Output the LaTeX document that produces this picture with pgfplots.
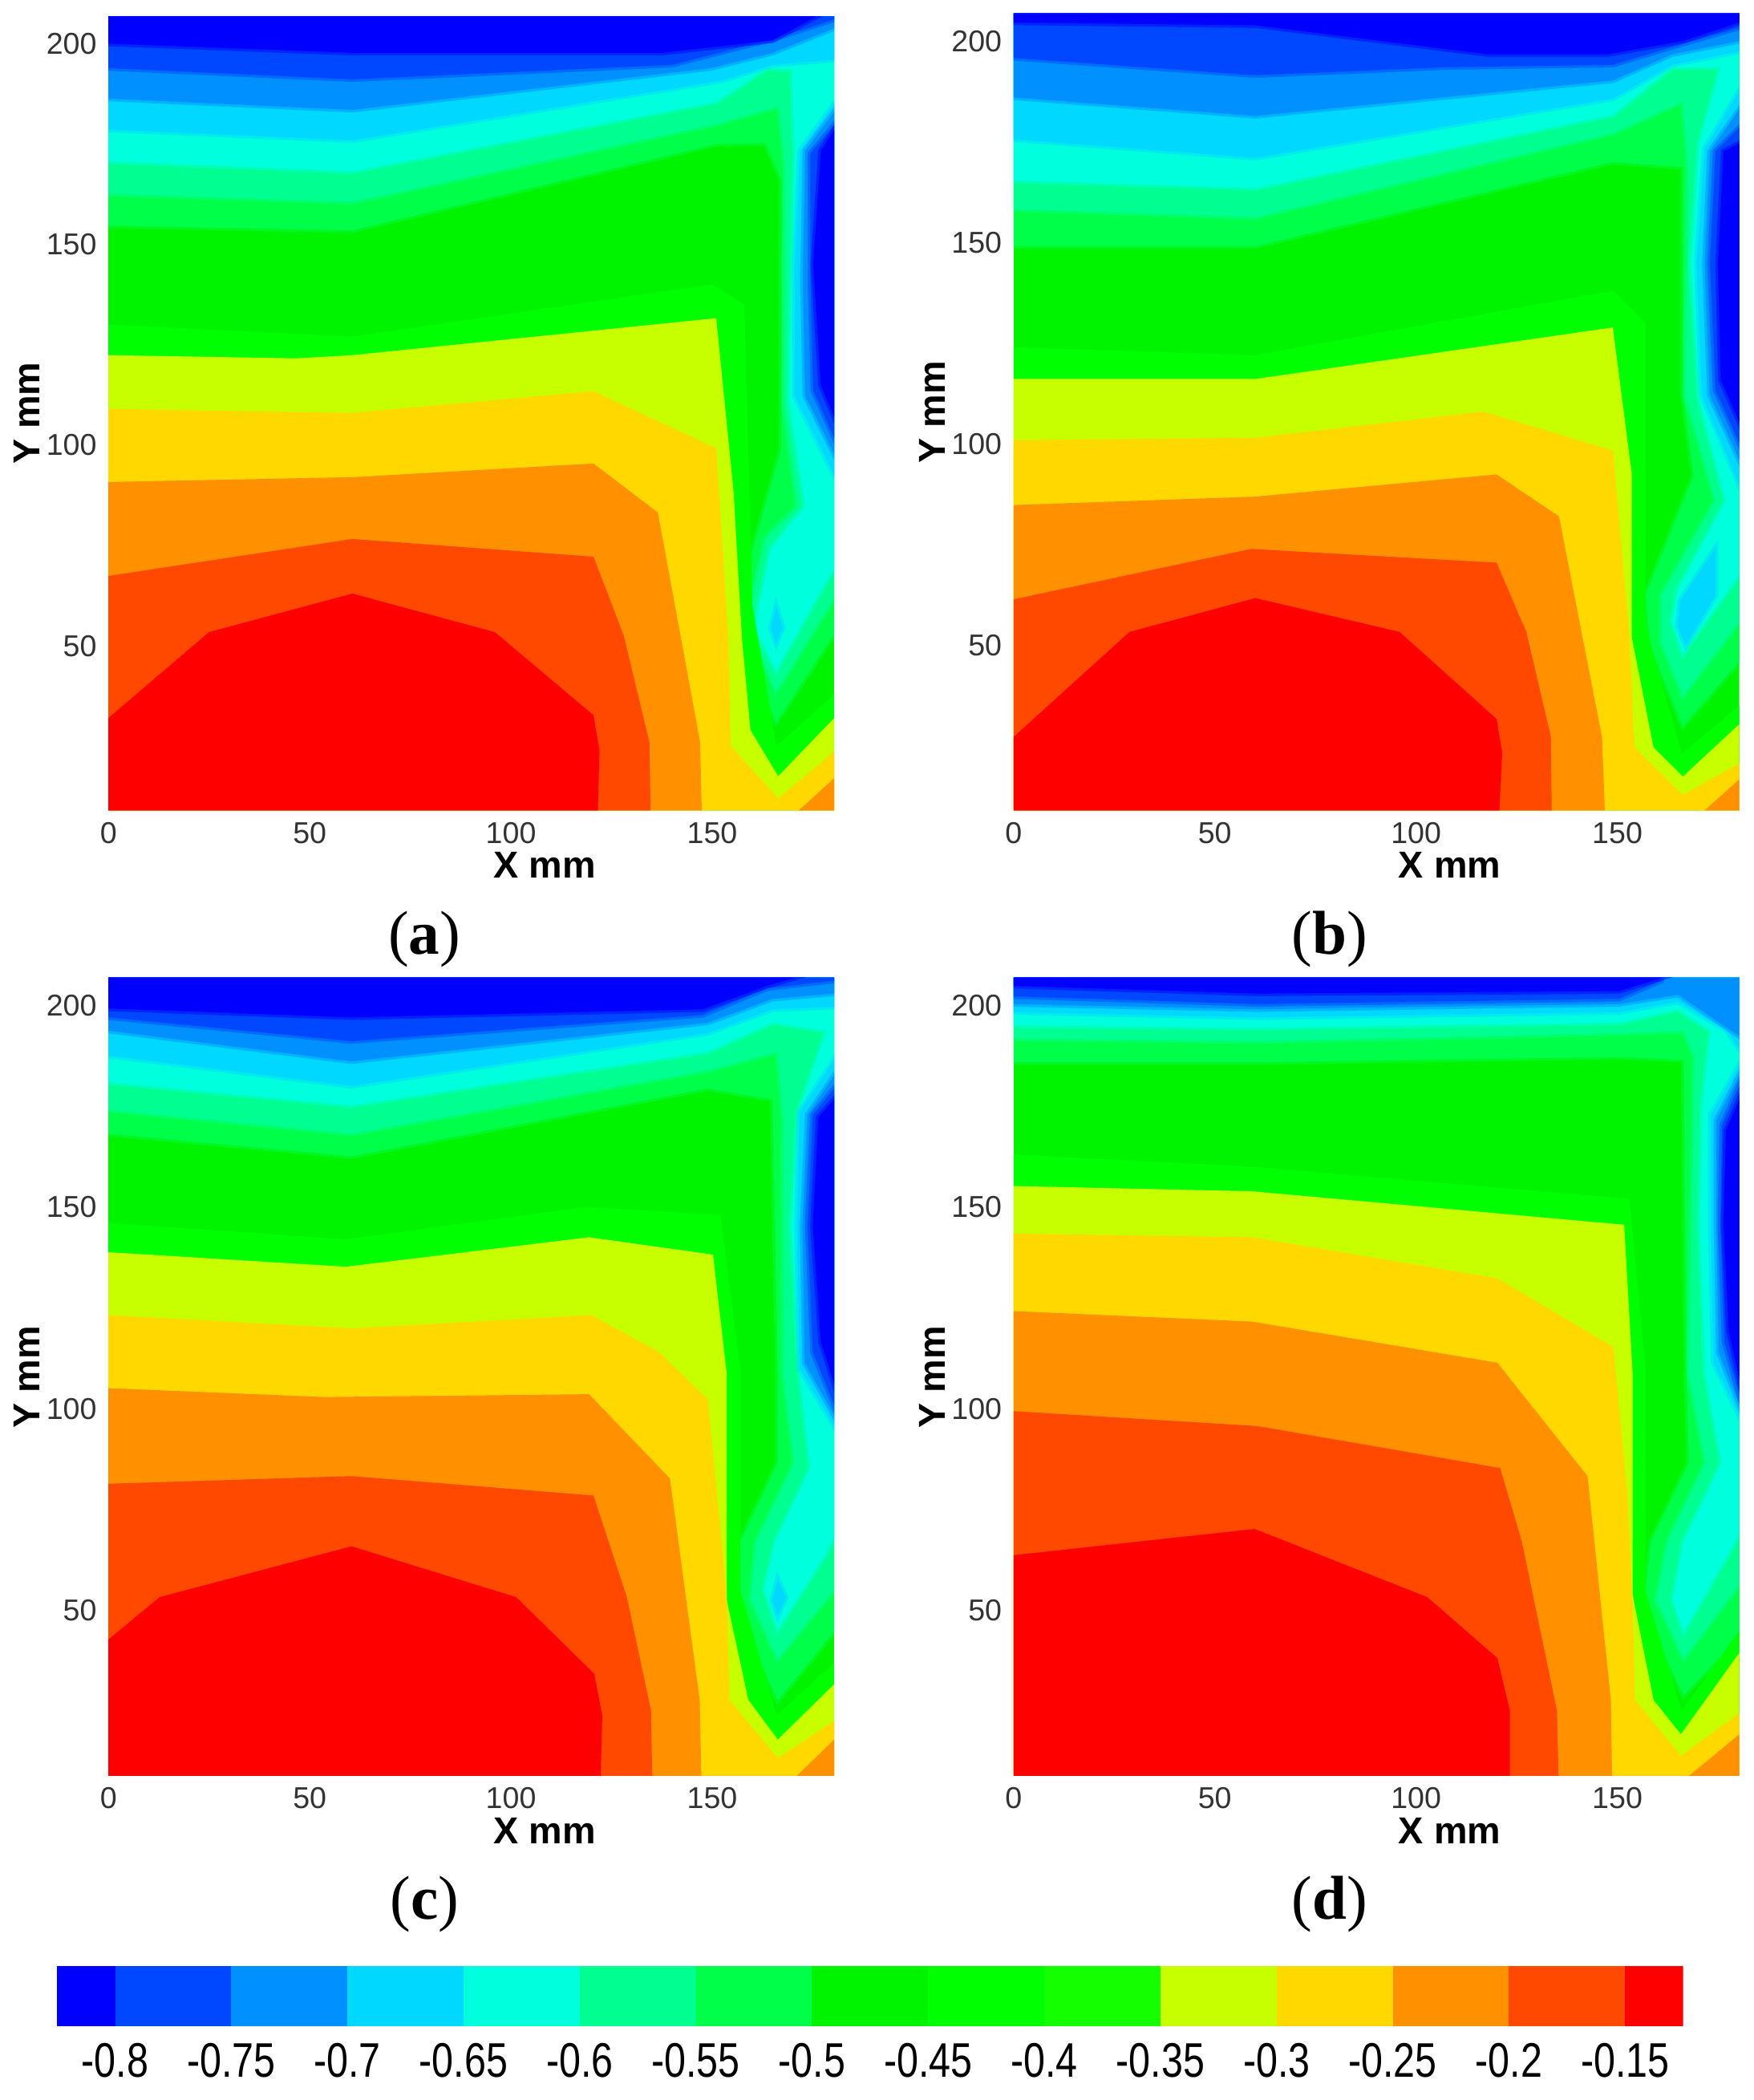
\documentclass[border=0pt]{standalone}
\usepackage{fontspec}
\setmainfont{Liberation Sans}
\newfontfamily\capfont{Liberation Serif}
\usepackage{pgfplots}
\pgfplotsset{compat=1.18}

% contour colours, lowest level first
\definecolor{c1}{HTML}{0000FF}
\definecolor{c2}{HTML}{0048FF}
\definecolor{c3}{HTML}{0090FF}
\definecolor{c4}{HTML}{00D8FF}
\definecolor{c5}{HTML}{00FFDC}
\definecolor{c6}{HTML}{00FF90}
\definecolor{c7}{HTML}{00FF48}
\definecolor{c8}{HTML}{00F400}
\definecolor{c9}{HTML}{00FF00}
\definecolor{c10}{HTML}{14FF00}
\definecolor{c11}{HTML}{C8FF00}
\definecolor{c12}{HTML}{FFD800}
\definecolor{c13}{HTML}{FF9000}
\definecolor{c14}{HTML}{FF4800}
\definecolor{c15}{HTML}{FF0000}

\newcommand{\lb}[1]{\scalebox{1}[1.25]{#1}}
\newcommand{\panelcap}[1]{{\capfont\fontsize{18.5}{20}\selectfont(\textbf{#1})}}

\pgfplotsset{
  panel/.style={
    scale only axis, width=216.8pt,
    anchor=south west,
    xmin=0, xmax=180.3, ymin=9, ymax=206.8,
    axis line style={draw=none},
    tick style={draw=none},
    xtick={0,50,100,150}, ytick={50,100,150,200},
    /pgf/number format/assume math mode=true,
    tick label style={font=\fontsize{9}{10}\selectfont, text=black!80},
    xlabel={\textbf{X mm}}, ylabel={\textbf{Y mm}},
    label style={font=\fontsize{11.2}{12}\selectfont},
    xlabel style={at={(axis description cs:0.601,-0.069)},anchor=center},
    ylabel style={at={(axis description cs:-0.1125,0.5)},anchor=center},
  },
  band/.style={draw=none, fill=#1, forget plot},
  % the cold levels are soft edged in the reference
  soft/.style={draw=#1, draw opacity=0.5, line width=1.6pt, fill=#1, forget plot},
}

\begin{document}
\begin{tikzpicture}[x=0.4pt,y=0.4pt]
\path[use as bounding box] (0,0) rectangle (1310,1568.2);

% (a)
\begin{axis}[panel, at={(32.4pt,385.2pt)}, height=237.2pt]
\addplot[band=c8] coordinates {(0,9)(180.3,9)(180.3,206.8)(0,206.8)} --cycle;
\addplot[soft=c7] coordinates {(0,154.7)(60.6,153.5)(151,175)(163.3,175.2)(167.2,166)(167.2,109.6)(167.2,99.1)(158.7,69)(156.7,53.2)(165.9,31)(180.3,53)(180.3,206.8)(0,206.8)} --cycle;
\addplot[soft=c6] coordinates {(0,162.6)(60.6,160.6)(151,180)(166.6,184.4)(168.2,168.7)(167.9,109.6)(171.2,84.7)(163.3,76.8)(158.7,55.8)(165.9,38.8)(180.3,62)(180.3,206.8)(0,206.8)} --cycle;
\addplot[soft=c5] coordinates {(0,170.7)(60.6,168.2)(151,185.5)(163.6,193.9)(169.8,193.6)(170.5,173.3)(169.2,111)(173.1,84.7)(164.6,74.2)(160.6,54.5)(165.9,44)(178.4,66.3)(180.3,69)(180.3,206.8)(0,206.8)} --cycle;
\addplot[soft=c4] coordinates {(0,178.6)(60.6,175.9)(152.5,190.8)(165,194.7)(180.3,196)(180.3,206.8)(0,206.8)} --cycle;
\addplot[soft=c3] coordinates {(0,186.3)(60.6,183.5)(149.7,193.9)(165,197.7)(180.3,203.8)(180.3,206.8)(0,206.8)} --cycle;
\addplot[soft=c2] coordinates {(0,193.9)(60.6,191.1)(140,194.7)(166.4,201.5)(180.3,206)(180.3,206.8)(0,206.8)} --cycle;
\addplot[soft=c1] coordinates {(0,200)(60.6,197.7)(137.5,197.7)(165,200.8)(176,206.8)(0,206.8)} --cycle;
\addplot[soft=c4] coordinates {(180.3,185)(171.8,173.3)(170.5,145)(170.5,112.3)(180.3,92.6)} --cycle;
\addplot[soft=c3] coordinates {(180.3,183)(173.1,173.3)(172.5,141.1)(173.1,112.3)(180.3,97.8)} --cycle;
\addplot[soft=c2] coordinates {(180.3,179.8)(174.4,172.6)(174.4,139.8)(175.1,113.6)(180.3,101.8)} --cycle;
\addplot[soft=c1] coordinates {(180.3,178.5)(177,173.3)(175.1,145)(177,114.9)(180.3,107)} --cycle;
\addplot[soft=c4] coordinates {(165.9,59.8)(164.6,54.5)(165.9,50.6)(167.5,54.5)} --cycle;
\addplot[band=c9] coordinates {(0,130)(60.6,127)(150,140)(158,135)(160,60)(166,25)(180.3,38)(180.3,9)(0,9)} --cycle;
\addplot[band=c11] coordinates {(0,122.4)(46.7,121.6)(60.6,122.4)(151,131.6)(155.3,88.5)(157.4,51.8)(159.5,29)(166.4,17.5)(180.3,32)(180.3,9)(0,9)} --cycle;
\addplot[band=c12] coordinates {(0,109)(60.6,108)(120.5,113.4)(151,99.2)(154,51.8)(154.6,25)(166.4,12)(180.3,23.6)(180.3,9)(0,9)} --cycle;
\addplot[band=c13] coordinates {(0,90.8)(60.6,92)(120.5,95.4)(136.5,83.2)(147,26)(147.4,9)(0,9)} --cycle;
\addplot[band=c13] coordinates {(171.5,9)(180.3,17)(180.3,9)} --cycle;
\addplot[band=c14] coordinates {(0,67.4)(60.6,76.6)(120.5,72.2)(128,52.6)(134.4,26)(134.7,9)(0,9)} --cycle;
\addplot[band=c15] coordinates {(0,32)(25,53.4)(60.6,63)(96,53.4)(120.5,32.7)(122,24)(121.6,9)(0,9)} --cycle;
\end{axis}

% (b)
\begin{axis}[panel, at={(302.8pt,385.2pt)}, height=238pt]
\addplot[band=c8] coordinates {(0,9)(180.3,9)(180.3,206.8)(0,206.8)} --cycle;
\addplot[soft=c7] coordinates {(0,149.1)(60.1,149.1)(148.9,170)(166.3,168.7)(166.3,112)(169,92)(157,62.4)(158.3,49.4)(166.3,30)(180.3,46)(180.3,206.8)(0,206.8)} --cycle;
\addplot[soft=c6] coordinates {(0,158.3)(60.1,156.3)(148.9,177.2)(166.3,185)(167.7,168)(167,112)(174.4,85.9)(161,62.4)(161,50.7)(166.3,37.6)(180.3,55.9)(180.3,206.8)(0,206.8)} --cycle;
\addplot[soft=c5] coordinates {(0,165.4)(60.1,163.5)(148.9,181.7)(163.6,193.5)(175.7,193.5)(170.4,174.6)(168.3,144.6)(170.4,110.7)(177,85.9)(165,63.7)(163.6,55.9)(166.3,48)(180.3,67.6)(180.3,206.8)(0,206.8)} --cycle;
\addplot[soft=c4] coordinates {(0,175.6)(60.1,171)(148.9,185.7)(163.6,194.1)(180.3,197.4)(180.3,206.8)(0,206.8)} --cycle;
\addplot[soft=c3] coordinates {(0,186)(60.1,181.4)(148.9,190.2)(163.6,196.7)(180.3,200)(180.3,206.8)(0,206.8)} --cycle;
\addplot[soft=c2] coordinates {(0,195.8)(60.1,191.5)(107.3,193.5)(148.9,194.1)(166.3,199.3)(180.3,203.3)(180.3,206.8)(0,206.8)} --cycle;
\addplot[soft=c1] coordinates {(0,204.6)(60.1,203.9)(118,196.7)(147.6,196.7)(166.3,200)(180.3,204.6)(180.3,206.8)(0,206.8)} --cycle;
\addplot[soft=c4] coordinates {(180.3,187.6)(171.7,173.3)(169.7,144.6)(171,112)(180.3,89.8)} --cycle;
\addplot[soft=c3] coordinates {(180.3,183)(173,172.6)(171.7,144.6)(173,112)(180.3,96)} --cycle;
\addplot[soft=c2] coordinates {(180.3,178.5)(174.4,172.6)(173,144.6)(174.4,113.3)(180.3,100.2)} --cycle;
\addplot[soft=c1] coordinates {(180.3,174.6)(176.4,172.6)(175,144.6)(175.7,115.9)(180.3,105.4)} --cycle;
\addplot[soft=c4] coordinates {(174.4,74.1)(165.7,61.1)(165,54.6)(167,50)(174.4,62.4)} --cycle;
\addplot[band=c9] coordinates {(0,124)(60,122)(149,138)(157,130)(157,55)(166,23)(180.3,35)(180.3,9)(0,9)} --cycle;
\addplot[band=c11] coordinates {(0,116.1)(60.1,116.1)(148.9,128.9)(153.6,92.4)(153.6,52)(159,24.6)(166.3,17.4)(180.3,30.4)(180.3,9)(0,9)} --cycle;
\addplot[band=c12] coordinates {(0,100.9)(60.1,101.5)(116.7,108)(148.9,98.3)(152.9,53.3)(154.3,24.6)(166.3,12.8)(180.3,20.7)(180.3,9)(0,9)} --cycle;
\addplot[band=c13] coordinates {(0,84.8)(60.1,86.9)(120,92.4)(135.5,82)(146.2,27.2)(146.9,9)(0,9)} --cycle;
\addplot[band=c13] coordinates {(171.7,9)(180.3,16.7)(180.3,9)} --cycle;
\addplot[band=c14] coordinates {(0,61.4)(59,73.9)(120,70.5)(127.4,53.3)(133.5,27.2)(133.7,9)(0,9)} --cycle;
\addplot[band=c15] coordinates {(0,27.2)(28.8,53.3)(60.1,61.7)(95.9,53.3)(120,31.7)(121.4,23.3)(120.7,9)(0,9)} --cycle;
\end{axis}

% (c)
\begin{axis}[panel, at={(32.4pt,96.8pt)}, height=238.4pt]
\addplot[band=c8] coordinates {(0,9)(180.3,9)(180.3,206.8)(0,206.8)} --cycle;
\addplot[soft=c7] coordinates {(0,168.2)(60.4,162.6)(148.9,179.4)(165,176.7)(166.3,108.8)(166.3,86.6)(157,67)(156.3,50)(166.3,27.8)(180.3,44.8)(180.3,206.8)(0,206.8)} --cycle;
\addplot[soft=c6] coordinates {(0,174.1)(60.4,168.2)(148.9,183.9)(166.3,188.5)(167.7,171.5)(167.7,108.8)(170.4,86.6)(161,67)(159.6,52.6)(166.3,38.2)(180.3,55.2)(180.3,206.8)(0,206.8)} --cycle;
\addplot[soft=c5] coordinates {(0,180.9)(60.4,175.2)(148.9,188.5)(165,195.7)(178.4,193.7)(171.4,173.5)(169.7,145.4)(171.7,108.8)(174.4,85.3)(165.7,67)(163,55.2)(166.3,45.4)(178.4,64.4)(180.3,68.3)(180.3,206.8)(0,206.8)} --cycle;
\addplot[soft=c4] coordinates {(0,187.5)(60.4,180)(148.9,193.1)(165,199)(180.3,199.6)(180.3,206.8)(0,206.8)} --cycle;
\addplot[soft=c3] coordinates {(0,193.7)(60.4,186.1)(148.9,195.7)(165,201.6)(180.3,202.9)(180.3,206.8)(0,206.8)} --cycle;
\addplot[soft=c2] coordinates {(0,197)(60.4,191.1)(147.6,197.6)(163.6,204.2)(180.3,206.1)(180.3,206.8)(0,206.8)} --cycle;
\addplot[soft=c1] coordinates {(0,199.2)(60.4,197)(147.6,199)(163.6,204.8)(170.4,206.8)(0,206.8)} --cycle;
\addplot[soft=c4] coordinates {(180.3,186.5)(171.7,173.5)(171,145.4)(171.7,110)(180.3,95.7)} --cycle;
\addplot[soft=c3] coordinates {(180.3,182.6)(173.7,172.8)(172.4,145.4)(173,111.4)(180.3,98.3)} --cycle;
\addplot[soft=c2] coordinates {(180.3,179.4)(175,172.8)(173.7,145.4)(175,114)(180.3,101)} --cycle;
\addplot[soft=c1] coordinates {(180.3,176.7)(176.4,172.2)(175,145.4)(177,116.6)(180.3,106.2)} --cycle;
\addplot[soft=c4] coordinates {(166.3,57.8)(165,52.6)(166.3,48.7)(168.3,53.3)} --cycle;
\addplot[band=c9] coordinates {(0,146)(59,142)(119,150)(152,148)(157,110)(157,55)(166,24)(180.3,37)(180.3,9)(0,9)} --cycle;
\addplot[band=c11] coordinates {(0,138.8)(59,135.2)(119.4,142.5)(150.2,138.2)(153.6,108.8)(153.6,52.6)(159,27.8)(166.3,18)(180.3,31.7)(180.3,9)(0,9)} --cycle;
\addplot[band=c12] coordinates {(0,123.2)(60.4,119.9)(120,123.2)(136.8,114)(148.9,102.3)(153.6,53.9)(154.3,27.8)(166.3,13.4)(180.3,22.6)(180.3,9)(0,9)} --cycle;
\addplot[band=c13] coordinates {(0,105.1)(53.7,102.9)(119.4,103.6)(139.5,82.7)(146.9,27.8)(147.3,9)(0,9)} --cycle;
\addplot[band=c13] coordinates {(171,9)(180.3,18)(180.3,9)} --cycle;
\addplot[band=c14] coordinates {(0,81.4)(60.4,83.3)(120.5,78.5)(128.8,53.3)(134.8,25.2)(135.1,9)(0,9)} --cycle;
\addplot[band=c15] coordinates {(0,42.8)(12.7,53.3)(60.4,65.9)(101.3,53.3)(120.7,34.3)(122.7,23.9)(122.3,9)(0,9)} --cycle;
\end{axis}

% (d)
\begin{axis}[panel, at={(302.8pt,96.8pt)}, height=238.4pt]
\addplot[band=c8] coordinates {(0,9)(180.3,9)(180.3,206.8)(0,206.8)} --cycle;
\addplot[soft=c7] coordinates {(0,185.9)(60.6,185.9)(150.4,187.2)(166.5,186.5)(167.2,108.8)(167.8,86.6)(158.4,67)(156.4,50)(166.5,29)(180.3,43.5)(180.3,206.8)(0,206.8)} --cycle;
\addplot[soft=c6] coordinates {(0,191.8)(60.6,191.1)(150.4,193.1)(166.5,193.7)(169.2,187.2)(167.8,108.8)(171.9,86.6)(162.5,67)(159.8,52.6)(166.5,38.2)(180.3,56.5)(180.3,206.8)(0,206.8)} --cycle;
\addplot[soft=c5] coordinates {(0,195)(60.6,194.4)(150.4,195.7)(165.1,199)(173.2,193.7)(171.2,175.4)(170.5,145.4)(171.9,108.8)(175.9,86.6)(166.5,67)(163.8,52.6)(166.5,44.8)(179.2,67)(180.3,69.6)(180.3,206.8)(0,206.8)} --cycle;
\addplot[soft=c4] coordinates {(0,198.3)(60.6,197)(150.4,198.3)(165.1,200.9)(177.2,193.7)(180.3,189.2)(180.3,206.8)(0,206.8)} --cycle;
\addplot[soft=c3] coordinates {(0,200.3)(60.6,199)(150.4,200.3)(165.1,202.6)(179.2,193.1)(180.3,192.4)(180.3,206.8)(0,206.8)} --cycle;
\addplot[soft=c2] coordinates {(0,202.2)(60.6,200.3)(150.4,201.6)(161,206.1)(161,206.8)(0,206.8)} --cycle;
\addplot[soft=c1] coordinates {(0,204.8)(60.6,202.9)(150.4,203.5)(161,206.8)(0,206.8)} --cycle;
\addplot[soft=c4] coordinates {(180.3,185.2)(173.2,172.8)(173.2,145.4)(173.9,111.4)(180.3,98.3)} --cycle;
\addplot[soft=c3] coordinates {(180.3,182.6)(174.6,171.5)(174.6,145.4)(175.2,114)(180.3,101)} --cycle;
\addplot[soft=c2] coordinates {(180.3,180)(176,170.2)(175.6,145.4)(176.6,116.6)(180.3,103.6)} --cycle;
\addplot[soft=c1] coordinates {(180.3,176.7)(177,168.9)(176.4,145.4)(177.7,119.2)(180.3,107.5)} --cycle;
\addplot[band=c9] coordinates {(0,163)(59,160)(153,152)(157,110)(157,55)(166,25)(180.3,45)(180.3,9)(0,9)} --cycle;
\addplot[band=c11] coordinates {(0,155.2)(59.2,153.9)(151.7,145.6)(153.8,108.8)(153.8,53.9)(159,27.8)(165.8,19.3)(180.3,39.5)(180.3,9)(0,9)} --cycle;
\addplot[band=c12] coordinates {(0,143.4)(59.2,142.5)(120.2,132.3)(149,115.3)(152.4,80)(153.8,52.6)(154.4,27.8)(165.8,14)(180.3,24.5)(180.3,9)(0,9)} --cycle;
\addplot[band=c13] coordinates {(0,124.2)(59.2,121.6)(120.2,111.4)(142.6,83.3)(148.4,27.8)(148.7,9)(0,9)} --cycle;
\addplot[band=c13] coordinates {(167.8,9)(180.3,19.3)(180.3,9)} --cycle;
\addplot[band=c14] coordinates {(0,99.4)(60.6,95.7)(120.9,85.3)(126.3,67)(135,25.2)(135.4,9)(0,9)} --cycle;
\addplot[band=c15] coordinates {(0,63.7)(59.9,70.2)(102.8,53.3)(120.2,38.2)(123.3,25.2)(123.3,9)(0,9)} --cycle;
\end{axis}

% colour bar
\begin{axis}[
  scale only axis, width=485.8pt, height=18pt,
  anchor=south west, at={(17.04pt,22pt)},
  xmin=-0.825, xmax=-0.125, ymin=0, ymax=1,
  axis line style={draw=none},
  tick style={draw=none},
  ytick=\empty,
  xtick={-0.8,-0.75,-0.7,-0.65,-0.6,-0.55,-0.5,-0.45,-0.4,-0.35,-0.3,-0.25,-0.2,-0.15},
  xticklabels={\lb{-0.8},\lb{-0.75},\lb{-0.7},\lb{-0.65},\lb{-0.6},\lb{-0.55},\lb{-0.5},\lb{-0.45},\lb{-0.4},\lb{-0.35},\lb{-0.3},\lb{-0.25},\lb{-0.2},\lb{-0.15}},
  tick label style={font=\fontsize{11.6}{12}\selectfont},
  xticklabel style={yshift=-1.6pt},
]
\addplot[band=c1] coordinates {(-0.825,0)(-0.8,0)(-0.8,1)(-0.825,1)} --cycle;
\addplot[band=c2] coordinates {(-0.8,0)(-0.75,0)(-0.75,1)(-0.8,1)} --cycle;
\addplot[band=c3] coordinates {(-0.75,0)(-0.7,0)(-0.7,1)(-0.75,1)} --cycle;
\addplot[band=c4] coordinates {(-0.7,0)(-0.65,0)(-0.65,1)(-0.7,1)} --cycle;
\addplot[band=c5] coordinates {(-0.65,0)(-0.6,0)(-0.6,1)(-0.65,1)} --cycle;
\addplot[band=c6] coordinates {(-0.6,0)(-0.55,0)(-0.55,1)(-0.6,1)} --cycle;
\addplot[band=c7] coordinates {(-0.55,0)(-0.5,0)(-0.5,1)(-0.55,1)} --cycle;
\addplot[band=c8] coordinates {(-0.5,0)(-0.45,0)(-0.45,1)(-0.5,1)} --cycle;
\addplot[band=c9] coordinates {(-0.45,0)(-0.4,0)(-0.4,1)(-0.45,1)} --cycle;
\addplot[band=c10] coordinates {(-0.4,0)(-0.35,0)(-0.35,1)(-0.4,1)} --cycle;
\addplot[band=c11] coordinates {(-0.35,0)(-0.3,0)(-0.3,1)(-0.35,1)} --cycle;
\addplot[band=c12] coordinates {(-0.3,0)(-0.25,0)(-0.25,1)(-0.3,1)} --cycle;
\addplot[band=c13] coordinates {(-0.25,0)(-0.2,0)(-0.2,1)(-0.25,1)} --cycle;
\addplot[band=c14] coordinates {(-0.2,0)(-0.15,0)(-0.15,1)(-0.2,1)} --cycle;
\addplot[band=c15] coordinates {(-0.15,0)(-0.125,0)(-0.125,1)(-0.15,1)} --cycle;
\end{axis}

% panel captions
\node at (317,867) {\panelcap{a}};
\node at (993,867) {\panelcap{b}};
\node at (317,146) {\panelcap{c}};
\node at (993,146) {\panelcap{d}};
\end{tikzpicture}
\end{document}
